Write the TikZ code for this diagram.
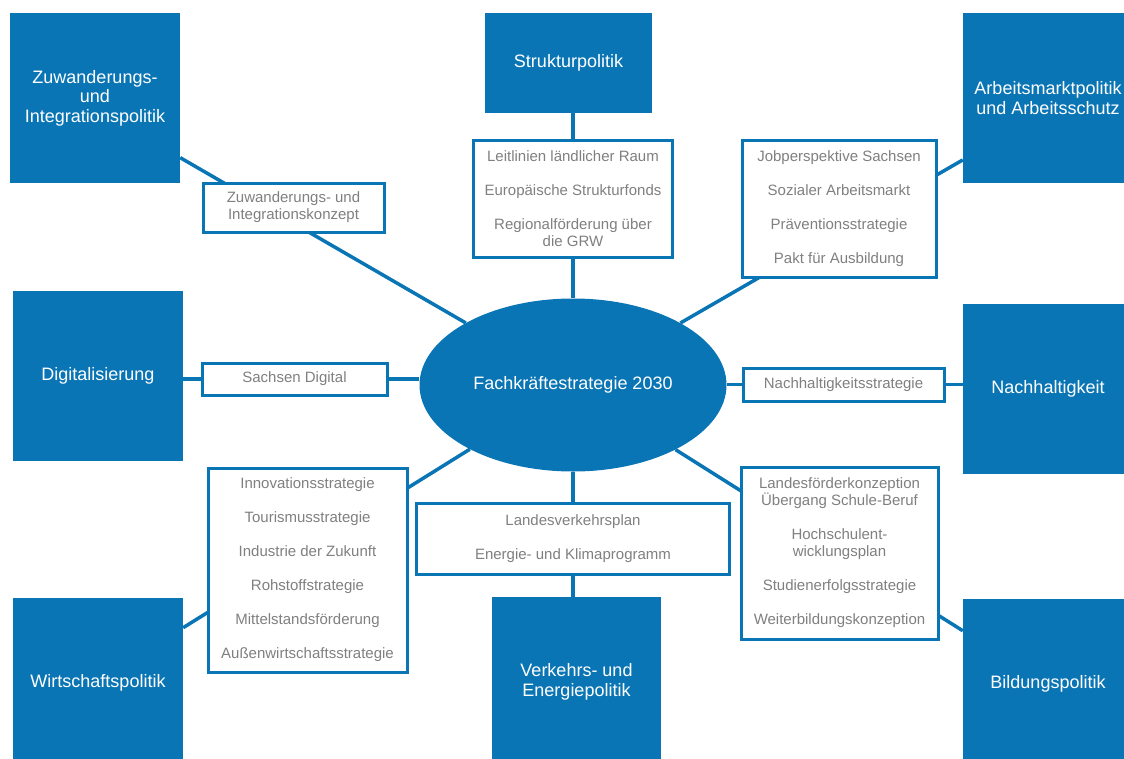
\documentclass[tikz,border=0pt]{standalone}
\usepackage{fontspec}
\setmainfont{Liberation Sans}
\usetikzlibrary{shapes.geometric,backgrounds}

\definecolor{sxblue}{HTML}{0A75B5}
\definecolor{sxgray}{HTML}{808080}

\begin{document}
\begin{tikzpicture}[x=1pt, y=-1pt,
    topic/.style={fill=sxblue, text=white, align=center, inner sep=0pt,
      minimum width=170pt, minimum height=170pt,
      font=\fontsize{18}{19.5}\selectfont},
    measure/.style={draw=sxblue, line width=3pt, fill=white, text=sxgray,
      align=center, inner sep=0pt, font=\fontsize{15}{17}\selectfont},
    link/.style={draw=sxblue, line width=3.5pt}]

    % page frame
    \useasboundingbox (0,0) rectangle (1124,758);
    \clip (0,0) rectangle (1124,758);

    % Centre
    \node[ellipse, fill=sxblue, text=white, inner sep=0pt,
      minimum width=307pt, minimum height=173pt,
      font=\fontsize{18}{19.5}\selectfont] (ell) at (573,385) {Fachkräftestrategie 2030};

    % --- Blue policy fields ---
    \node[topic] (zuw)  at (95,98)     {Zuwanderungs-\\und\\Integrationspolitik};
    \node[topic, minimum width=167pt, minimum height=100pt]
                 (struk) at (568.5,63) {Strukturpolitik};
    \node[topic] (arb)  at (1048,98)   {Arbeitsmarktpolitik\\und Arbeitsschutz};
    \node[topic] (dig)  at (98,375.5)  {Digitalisierung};
    \node[topic] (nach) at (1048,389)  {Nachhaltigkeit};
    \node[topic] (wirt) at (98,683)    {Wirtschaftspolitik};
    \node[topic, minimum width=169pt]
                 (verk) at (576.5,682) {Verkehrs- und\\Energiepolitik};
    \node[topic] (bild) at (1048,684)  {Bildungspolitik};

    % --- White boxes with the single measures ---
    \node[measure, minimum width=181pt, minimum height=49pt] (konz) at (293.5,207.5)
      {Zuwanderungs- und\\Integrationskonzept};
    \node[measure, minimum width=199pt, minimum height=117pt] (leit) at (573,198.5)
      {Leitlinien ländlicher Raum\\[17pt]Europäische Strukturfonds\\[17pt]Regionalförderung über\\die GRW};
    \node[measure, minimum width=194pt, minimum height=137pt] (job) at (839,208.5)
      {Jobperspektive Sachsen\\[17pt]Sozialer Arbeitsmarkt\\[17pt]Präventionsstrategie\\[17pt]Pakt für Ausbildung};
    \node[measure, minimum width=185pt, minimum height=32pt] (sach) at (294.5,379)
      {Sachsen Digital};
    \node[measure, minimum width=201pt, minimum height=33pt] (nstr) at (843.5,384.5)
      {Nachhaltigkeitsstrategie};
    \node[measure, minimum width=199pt, minimum height=204pt] (inno) at (307.5,570)
      {Innovationsstrategie\\[17pt]Tourismusstrategie\\[17pt]Industrie der Zukunft\\[17pt]Rohstoffstrategie\\[17pt]Mittelstandsförderung\\[17pt]Außenwirtschaftsstrategie};
    \node[measure, minimum width=313pt, minimum height=71pt] (lvp) at (573,538.5)
      {Landesverkehrsplan\\[17pt]Energie- und Klimaprogramm};
    \node[measure, minimum width=197pt, minimum height=172pt] (lfk) at (839.5,553)
      {Landesförderkonzeption\\Übergang Schule-Beruf\\[17pt]Hochschulent-\\wicklungsplan\\[17pt]Studienerfolgsstrategie\\[17pt]Weiterbildungskonzeption};

    % --- Connectors, behind the boxes ---
    \begin{scope}[on background layer]
      \draw[link] (zuw.-35) -- (ell);
      \draw[link] (arb.-144) -- (ell);
      \draw[link] (wirt.33) -- (ell);
      \draw[link] (bild.148) -- (ell);
      \draw[link] (leit.north) -- (leit.north |- struk.south);
      \draw[link] (leit) -- (ell);
      \draw[link] (lvp) -- (ell);
      \draw[link] (lvp.south) -- (lvp.south |- verk.north);
      \draw[link] (sach.west) -- (sach.west -| dig.east);
      \draw[link] (sach.east) -- (sach.east -| ell.west);
      \draw[link] (nstr.east) -- (nstr.east -| nach.west);
      \draw[link] (nstr.west) -- (nstr.west -| ell.east);
    \end{scope}

\end{tikzpicture}
\end{document}
